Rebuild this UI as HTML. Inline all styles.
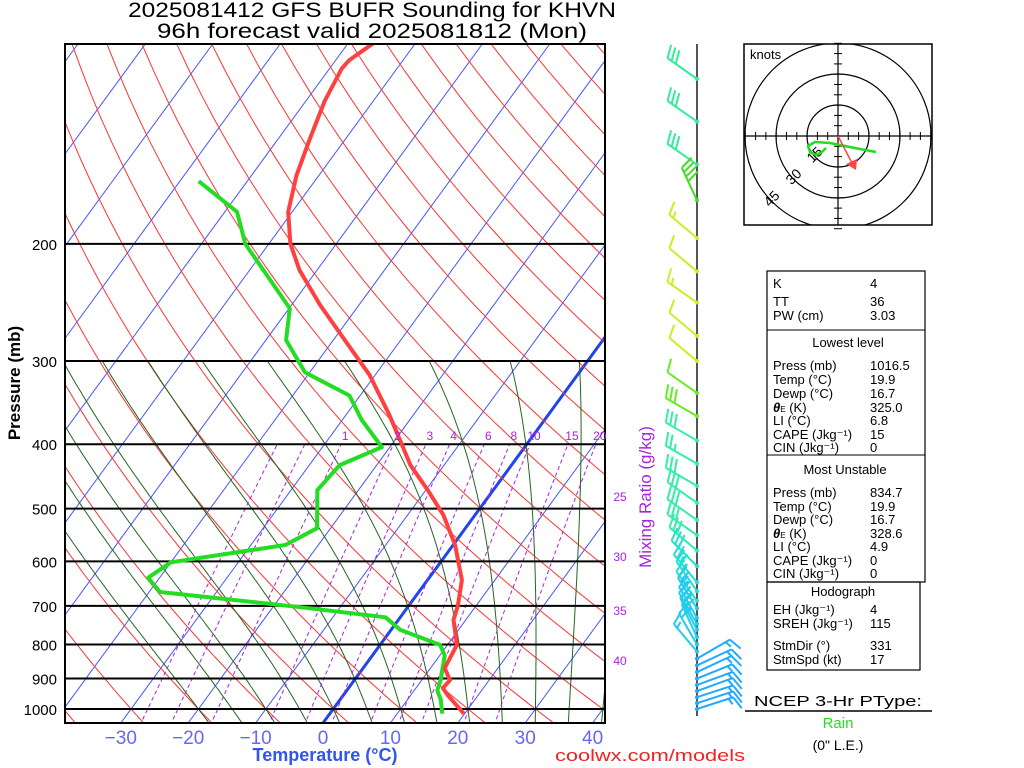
<!DOCTYPE html>
<html><head><meta charset="utf-8"><style>
html,body{margin:0;padding:0;background:#fff;}
svg{display:block;font-family:"Liberation Sans",sans-serif;}
</style></head><body>
<svg id="sk" width="1024" height="768" viewBox="0 0 1024 768" xmlns="http://www.w3.org/2000/svg">
<defs><clipPath id="pc"><rect x="65" y="44" width="540" height="679"/></clipPath></defs>
<text x="372" y="17" font-size="21" text-anchor="middle" textLength="488" lengthAdjust="spacingAndGlyphs">2025081412 GFS BUFR Sounding for KHVN</text>
<text x="372" y="38" font-size="21" text-anchor="middle" textLength="430" lengthAdjust="spacingAndGlyphs">96h forecast valid 2025081812 (Mon)</text>
<g id="bg" clip-path="url(#pc)"></g>
<g id="series" clip-path="url(#pc)"></g>
<rect x="65" y="44" width="540" height="679" fill="none" stroke="#000" stroke-width="2"/>
<g id="axes"></g>
<text transform="translate(20,383) rotate(-90)" font-size="17" font-weight="bold" text-anchor="middle">Pressure (mb)</text>
<text x="325" y="761" font-size="18" font-weight="bold" fill="#3355ee" text-anchor="middle">Temperature (°C)</text>
<text x="650" y="761" font-size="17" fill="#ee2222" text-anchor="middle" textLength="190" lengthAdjust="spacingAndGlyphs">coolwx.com/models</text>
<text transform="translate(651,497) rotate(-90)" font-size="17" fill="#aa22dd" text-anchor="middle">Mixing Ratio (g/kg)</text>
<line x1="697" y1="44" x2="697" y2="716" stroke="#555" stroke-width="2"/>
<g id="barbs"></g>
<g>
<rect x="744" y="44" width="188" height="181" fill="#fff" stroke="#000" stroke-width="1.5"/>
<clipPath id="hc"><rect x="744" y="44" width="188" height="181"/></clipPath>
<g clip-path="url(#hc)">
<circle cx="838" cy="136" r="31" fill="none" stroke="#000" stroke-width="1.2"/>
<circle cx="838" cy="136" r="62" fill="none" stroke="#000" stroke-width="1.2"/>
<circle cx="838" cy="136" r="93" fill="none" stroke="#000" stroke-width="1.2"/>
</g>
<line x1="744" y1="136" x2="932" y2="136" stroke="#000" stroke-width="1.2"/>
<line x1="838" y1="44" x2="838" y2="225" stroke="#000" stroke-width="1.2"/>
<g id="hticks"></g>
<text x="750" y="59" font-size="13">knots</text>
<text transform="translate(818,158) rotate(-45)" font-size="14" text-anchor="middle">15</text>
<text transform="translate(797,180) rotate(-45)" font-size="14" text-anchor="middle">30</text>
<text transform="translate(775,202) rotate(-45)" font-size="14" text-anchor="middle">45</text>
<polyline points="876,152 860,149 845,146 830,143 815,142 808,146 810,152 816,155 822,152 826,148" fill="none" stroke="#22dd22" stroke-width="2.5"/>
<line x1="838" y1="136" x2="853" y2="165" stroke="#ff4444" stroke-width="1.5"/>
<polygon points="856,170 846,164 857,159" fill="#ff4444"/>
</g>
<g font-size="13">
<rect x="767" y="271" width="158" height="311" fill="none" stroke="#000" stroke-width="1.2"/>
<line x1="767" y1="330" x2="925" y2="330" stroke="#000"/>
<line x1="767" y1="455" x2="925" y2="455" stroke="#000"/>
<rect x="767" y="582" width="153" height="88" fill="none" stroke="#000" stroke-width="1.2"/>
<text x="773" y="288">K</text><text x="870" y="288">4</text>
<text x="773" y="306">TT</text><text x="870" y="306">36</text>
<text x="773" y="320">PW (cm)</text><text x="870" y="320">3.03</text>
<text x="848" y="347" text-anchor="middle">Lowest level</text>
<text x="773" y="370">Press (mb)</text><text x="870" y="370">1016.5</text>
<text x="773" y="384">Temp (°C)</text><text x="870" y="384">19.9</text>
<text x="773" y="398">Dewp (°C)</text><text x="870" y="398">16.7</text>
<text x="773" y="412"><tspan font-weight="bold" font-style="italic">θ</tspan><tspan font-size="8">E</tspan> (K)</text><text x="870" y="412">325.0</text>
<text x="773" y="425">LI (°C)</text><text x="870" y="425">6.8</text>
<text x="773" y="439">CAPE (Jkg⁻¹)</text><text x="870" y="439">15</text>
<text x="773" y="452">CIN (Jkg⁻¹)</text><text x="870" y="452">0</text>
<text x="845" y="474" text-anchor="middle">Most Unstable</text>
<text x="773" y="497">Press (mb)</text><text x="870" y="497">834.7</text>
<text x="773" y="511">Temp (°C)</text><text x="870" y="511">19.9</text>
<text x="773" y="524">Dewp (°C)</text><text x="870" y="524">16.7</text>
<text x="773" y="538"><tspan font-weight="bold" font-style="italic">θ</tspan><tspan font-size="8">E</tspan> (K)</text><text x="870" y="538">328.6</text>
<text x="773" y="551">LI (°C)</text><text x="870" y="551">4.9</text>
<text x="773" y="565">CAPE (Jkg⁻¹)</text><text x="870" y="565">0</text>
<text x="773" y="578">CIN (Jkg⁻¹)</text><text x="870" y="578">0</text>
<text x="843" y="596" text-anchor="middle">Hodograph</text>
<text x="773" y="614">EH (Jkg⁻¹)</text><text x="870" y="614">4</text>
<text x="773" y="628">SREH (Jkg⁻¹)</text><text x="870" y="628">115</text>
<text x="773" y="650">StmDir (°)</text><text x="870" y="650">331</text>
<text x="773" y="664">StmSpd (kt)</text><text x="870" y="664">17</text>
</g>
<g>
<text x="838" y="706" font-size="15" text-anchor="middle" textLength="168" lengthAdjust="spacingAndGlyphs">NCEP 3-Hr PType:</text>
<line x1="745" y1="711" x2="932" y2="711" stroke="#000" stroke-width="1.5"/>
<text x="838" y="728" font-size="15" fill="#22dd22" text-anchor="middle">Rain</text>
<text x="838" y="750" font-size="14" text-anchor="middle">(0" L.E.)</text>
</g>
</svg>
<script>
const tempP=[1016.5,952,930,905,868,801,735,700,640,567,511,469,430,394,362,315,279,247,219,200,179,158,140,122,109,106,100];
const tempT=[19.9,15.4,14.0,14.2,12.1,11.4,8.2,7.3,5.1,0.3,-4.7,-9.7,-15,-19.3,-23.5,-30.8,-38.3,-45.8,-52.6,-56.8,-60.6,-63.3,-65.2,-67.2,-68.2,-68,-66.3];
const dewP=[1016.5,970,937,905,830,801,760,728,703,667,635,602,567,535,469,430,404,368,338,312,279,250,200,179,161];
const dewT=[16.7,15.0,13.4,12.8,10.7,8.9,1.3,-2.2,-15.9,-38.4,-41.7,-40,-24.9,-22,-26.1,-25.5,-21.2,-27.1,-31.6,-40.7,-47,-49.9,-63.5,-68.2,-77.2];
const pressTicks=[200,300,400,500,600,700,800,900,1000];
const tempTicks=[-30,-20,-10,0,10,20,30,40];
const mixVals=[0.4,0.6,1,2,3,4,6,8,10,15,20];
const mixLabelsTop=[1,2,3,4,6,8,10,15,20];
const mixLabelsRight=[25,30,35,40];
const mixLabelsRightP=[480,591,712,847];
const barbP=[113,131,152,172,196,220,245,275,300,335,363,395,428,462,490,520,548,578,610,645,665,688,706,730,745,760,780,800,820,840,860,880,900,920,940,960,980,1000];
const barbDir=[305,305,305,335,310,310,305,310,310,305,300,300,300,300,305,305,305,310,315,320,325,325,328,330,330,332,335,330,320,60,65,65,68,70,70,72,72,72];
const barbSpd=[30,30,30,40,15,10,15,10,10,10,30,30,25,30,30,30,30,30,30,25,25,25,25,25,25,25,25,20,15,15,15,15,15,15,15,15,15,15];

const NS='http://www.w3.org/2000/svg';
function Y(p){return 709-289*Math.log(1000/p);}
function X(T,p){return 323+6.74*T+0.731*(723-Y(p));}
function mk(tag,attrs,parent){const e=document.createElementNS(NS,tag);for(const k in attrs)e.setAttribute(k,attrs[k]);parent.appendChild(e);return e;}
const bg=document.getElementById('bg'),ser=document.getElementById('series'),ax=document.getElementById('axes'),bb=document.getElementById('barbs');
function poly(pts,attrs,parent){attrs.points=pts.map(q=>q[0].toFixed(1)+','+q[1].toFixed(1)).join(' ');attrs.fill='none';return mk('polyline',attrs,parent);}

for(let T=-160;T<=50;T+=10){
  const x0=323+6.74*T;
  const l=mk('line',{x1:x0,y1:723,x2:x0+0.731*679,y2:44,stroke:T===0?'#2244ee':'#4455ff','stroke-width':T===0?3:1},bg);
  
  
}
for(let th=173.15;th<=493.15;th+=10){
  const pts=[];for(let p=1060;p>=95;p-=10){const T=th*Math.pow(p/1000,0.2857)-273.15;pts.push([X(T,p),Y(p)]);}
  const l=poly(pts,{stroke:'#ff3333','stroke-width':1},bg);
  
  
}
function es(Tc){return 6.112*Math.exp(17.67*Tc/(Tc+243.5));}
function dTdp(T,p){const e=es(T-273.15),rs=0.622*e/(p-e),Lv=2.5e6,Rd=287,cp=1005;return (Rd*T+Lv*rs)/(p*(cp+Lv*Lv*rs*0.622/(Rd*T*T)));}
for(let T0=-20;T0<=40;T0+=5){
  let T=T0+273.15,p=1000;const up=[];
  while(p>300){up.push([X(T-273.15,p),Y(p)]);const dp=-5;T+=dTdp(T,p)*dp;p+=dp;}
  up.push([X(T-273.15,p),Y(p)]);
  T=T0+273.15;p=1000;const dn=[];
  while(p<1060){const dp=5;T+=dTdp(T,p)*dp;p+=dp;dn.unshift([X(T-273.15,p),Y(p)]);}
  const l=poly(dn.concat(up),{stroke:'#226622','stroke-width':1},bg);
  
  
}
function mixT(w,p){const e=(w/1000)*p/(0.622+w/1000);const L=Math.log(e/6.112);return 243.5*L/(17.67-L);}
for(const w of mixVals){
  const pts=[];for(let p=1060;p>=400;p-=10)pts.push([X(mixT(w,p),p),Y(p)]);
  const l=poly(pts,{stroke:'#aa22dd','stroke-width':1,'stroke-dasharray':'4,3'},bg);
  
  
}
for(const w of mixLabelsTop){
  const t=mk('text',{x:X(mixT(w,400),400)+4,y:440,'font-size':12,fill:'#aa22dd','text-anchor':'middle'},ax);
  t.textContent=w;
  
  
}
mixLabelsRight.forEach((w,i)=>{
  const t=mk('text',{x:620,y:Y(mixLabelsRightP[i])+4,'font-size':12,fill:'#aa22dd','text-anchor':'middle'},ax);
  t.textContent=w;
  
  
});
for(const p of pressTicks){
  const l=mk('line',{x1:65,y1:Y(p),x2:605,y2:Y(p),stroke:'#000','stroke-width':2},ser);
  
  
  const t=mk('text',{x:57,y:Y(p)+6,'font-size':15,'text-anchor':'end'},ax);
  t.textContent=p;
  
  
}
for(const T of tempTicks){
  const t=mk('text',{x:323+6.74*T,y:744,'font-size':19,fill:'#6666ff','text-anchor':'middle'},ax);
  t.textContent=T<0?'\u2212'+(-T):T;
  
  
}
const dl=poly(dewP.map((p,i)=>[X(dewT[i],p),Y(p)]),{stroke:'#22dd22','stroke-width':4,'stroke-linejoin':'round'},ser);


const tl=poly(tempP.map((p,i)=>[X(tempT[i],p),Y(p)]),{stroke:'#ff4040','stroke-width':4,'stroke-linejoin':'round'},ser);


const ht=document.getElementById('hticks');
for(let k=-9;k<=9;k++){if(!k)continue;const d=k*10.3;
  mk('line',{x1:838+d,y1:132,x2:838+d,y2:140,stroke:'#000'},ht);
  mk('line',{x1:834,y1:136+d,x2:842,y2:136+d,stroke:'#000'},ht);}
function barbColor(p){
  if(p>=830)return '#22aaff';
  if(p>=700)return '#22ccee';
  if(p>=600)return '#22e0d0';
  if(p>=380)return '#33eeaa';
  if(p>=320)return '#66ee22';
  if(p>=190&&p<320)return '#ccee22';
  if(p>=165)return '#44dd22';
  return '#33ee99';
}
barbP.forEach((p,i)=>{
  const y=Y(p),x=697,d=barbDir[i]*Math.PI/180;
  const ux=Math.sin(d),uy=-Math.cos(d);
  const L=p>=830?38:36;
  const tx=x+ux*L,ty=y+uy*L;
  const col=barbColor(p);
  const g=mk('g',{stroke:col,'stroke-width':2,fill:col},bb);
  
  
  mk('line',{x1:x,y1:y,x2:tx,y2:ty},g);
  const px=-uy,py=ux,a=70*Math.PI/180;
  const bx=Math.cos(a)*ux+Math.sin(a)*px,by=Math.cos(a)*uy+Math.sin(a)*py;
  let s=barbSpd[i],pos=0;
  while(s>=50){const sx=tx-ux*pos,sy=ty-uy*pos;mk('polygon',{points:`${sx},${sy} ${sx+bx*14},${sy+by*14} ${sx-ux*6},${sy-uy*6}`},g);pos+=8;s-=50;}
  while(s>=10){const sx=tx-ux*pos,sy=ty-uy*pos;mk('line',{x1:sx,y1:sy,x2:sx+bx*14,y2:sy+by*14},g);pos+=5;s-=10;}
  if(s>=5){if(pos===0)pos=5;const sx=tx-ux*pos,sy=ty-uy*pos;mk('line',{x1:sx,y1:sy,x2:sx+bx*7,y2:sy+by*7},g);}
  mk('circle',{cx:x,cy:y,r:2,stroke:'none'},g);
});
</script>
</body></html>
